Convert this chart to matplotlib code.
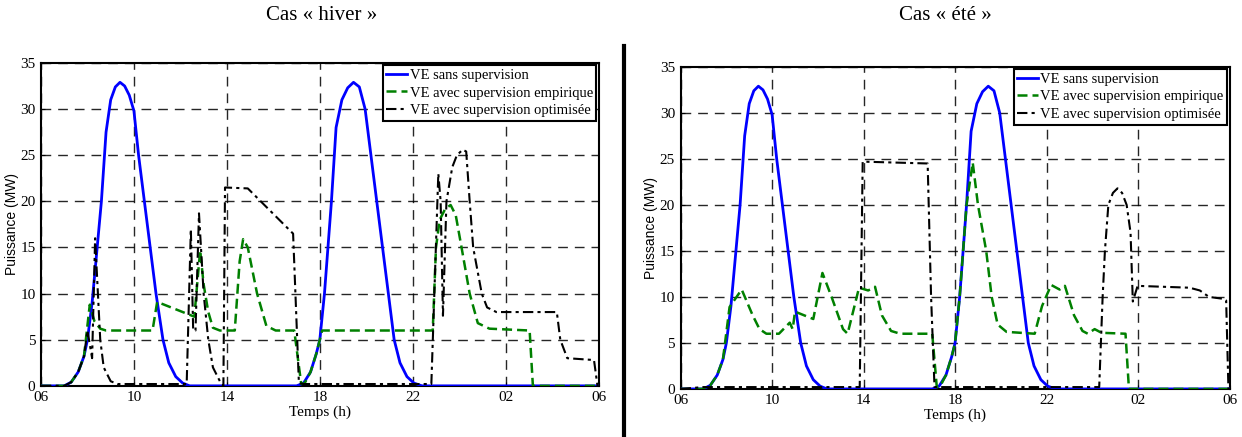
import matplotlib
matplotlib.use("Agg")
import matplotlib.pyplot as plt
from matplotlib.lines import Line2D

plt.rcParams["font.family"] = ["Liberation Serif", "DejaVu Serif"]

# Heures (6h -> 30h = 06h le lendemain) et puissances (MW)
t_sans = [6.0, 7.0, 7.3, 7.6, 7.85, 8.0, 8.2, 8.4, 8.6, 8.8, 9.0, 9.2, 9.4, 9.6, 9.8,
          10.0, 10.2, 10.45, 10.7, 10.95, 11.25, 11.5, 11.8, 12.1, 12.4, 17.0, 17.3,
          17.6, 17.85, 18.0, 18.2, 18.35, 18.5, 18.7, 18.95, 19.2, 19.45, 19.7, 19.95,
          20.2, 20.45, 20.7, 20.95, 21.2, 21.45, 21.75, 22.05, 22.4, 30.0]
p_sans = [0, 0, 0.4, 1.5, 3.2, 5, 9, 14.5, 20, 27.5, 31, 32.4, 32.9, 32.5, 31.5,
          29.8, 25, 20, 15, 10, 5, 2.5, 1.0, 0.3, 0, 0, 0.3,
          1.5, 3.5, 5, 10, 15, 20, 28, 31, 32.3, 32.9, 32.4, 30,
          25, 20, 15, 10, 5, 2.5, 1.0, 0.3, 0, 0]

# Cas hiver
t_emp_hiver = [6.0, 7.0, 7.3, 7.6, 7.85, 8.1, 8.3, 8.55, 8.8, 10.8, 11.0, 12.6, 12.85,
               13.0, 13.2, 13.4, 13.7, 14.34, 14.55, 14.7, 14.9, 15.3, 15.7, 16.1, 16.9,
               17.2, 17.35, 17.6, 17.85, 18.0, 18.1, 22.86, 23.0, 23.16, 23.4, 23.63,
               23.85, 24.1, 24.45, 24.8, 25.3, 27.03, 27.17, 30.0]
p_emp_hiver = [0, 0, 0.4, 1.5, 3.2, 8.8, 7.0, 6.2, 6.0, 6.0, 9.1, 7.5, 14.7,
               11, 8, 6.3, 6.0, 6.0, 13.5, 15.9, 15, 10, 6.5, 6.0, 6.0,
               0.2, 0.3, 1.5, 3.5, 5, 6, 6, 15, 18, 19.2, 19.6,
               18.5, 15, 10, 6.8, 6.2, 6.0, 0, 0]
t_opt_hiver = [6.0, 7.0, 7.3, 7.6, 7.85, 8.0, 8.2, 8.33, 8.55, 8.7, 9.0, 9.3, 12.27,
               12.45, 12.55, 12.65, 12.8, 13.0, 13.2, 13.4, 13.7, 13.85, 13.92, 14.9,
               16.85, 17.1, 17.3, 22.8, 23.1, 23.2, 23.3, 23.45, 23.7, 23.9, 24.15,
               24.3, 24.45, 24.6, 24.97, 25.2, 25.6, 28.2, 28.35, 28.65, 29.8, 29.95, 30.0]
p_opt_hiver = [0, 0, 0.4, 1.5, 3.2, 6, 3, 16, 5, 2, 0.5, 0.2, 0.2,
               17, 6, 6, 18.7, 10, 5, 2, 0.5, 0, 21.5, 21.4,
               16.5, 0.3, 0.2, 0.2, 23, 20, 7.6, 20, 23.7, 25, 25.6,
               25.4, 20, 15, 10, 8.5, 8, 8, 5, 3, 2.8, 0, 0]

# Cas ete
t_emp_ete = [6.0, 7.0, 7.3, 7.6, 7.85, 8.14, 8.67, 9.15, 9.45, 9.75, 10.3, 10.77, 10.9,
             11.0, 11.8, 12.2, 12.6, 13.1, 13.3, 13.8, 14.2, 14.5, 14.8, 15.2, 15.6,
             17.0, 17.2, 17.35, 17.6, 17.85, 18.0, 18.2, 18.35, 18.5, 18.77, 19.0,
             19.36, 19.6, 19.86, 20.25, 21.48, 21.8, 22.2, 22.57, 22.8, 23.2, 23.57,
             23.8, 24.1, 24.4, 25.45, 25.6, 30.0]
p_emp_ete = [0, 0, 0.4, 1.5, 3.2, 8.9, 10.8, 8, 6.5, 6, 6, 7.2, 6.5,
             8.4, 7.6, 12.6, 10, 6.5, 6, 11, 10.7, 11.1, 8, 6.3, 6,
             6, 0.2, 0.3, 1.5, 3.5, 5, 10, 15, 20, 24.6, 20,
             15, 10, 7, 6.2, 6, 9, 11.3, 10.8, 11.2, 8, 6.3,
             6.0, 6.5, 6.1, 6.0, 0, 0]
t_opt_ete = [6.0, 7.0, 13.83, 13.96, 16.8, 16.95, 17.1, 24.3, 24.45, 24.55, 24.7, 24.9,
             25.1, 25.3, 25.5, 25.67, 25.77, 25.98, 28.25, 28.7, 29.1, 29.7, 29.85,
             29.95, 30.0]
p_opt_ete = [0, 0.2, 0.2, 24.7, 24.5, 10, 0.2, 0.2, 10, 15, 20, 21.3,
             21.8, 21.3, 20, 17, 9.5, 11.2, 11.0, 10.7, 10, 9.8, 9.6,
             0, 0]

x_ticks = [6, 10, 14, 18, 22, 26, 30]
x_labels = ["06", "10", "14", "18", "22", "02", "06"]
y_ticks = [0, 5, 10, 15, 20, 25, 30, 35]
labels = ["VE sans supervision", "VE avec supervision empirique",
          "VE avec supervision optimisée"]


def draw_panel(ax, t_emp, p_emp, t_opt, p_opt):
    ax.plot(t_sans, p_sans, "-", color="#0000ff", linewidth=2.0, label=labels[0], zorder=3)
    ax.plot(t_emp, p_emp, "--", color="#008000", linewidth=1.8, dashes=(4, 2),
            label=labels[1], zorder=4)
    ax.plot(t_opt, p_opt, "-.", color="black", linewidth=1.5, dashes=(5, 2, 1.5, 2),
            label=labels[2], zorder=5)
    ax.set_xlim(6, 30)
    ax.set_ylim(0, 35)
    ax.set_xticks(x_ticks)
    ax.set_xticklabels(x_labels)
    ax.set_yticks(y_ticks)
    ax.tick_params(direction="in", length=3, labelsize=11)
    ax.tick_params(axis="x", pad=4)
    ax.tick_params(axis="y", pad=4)
    ax.grid(True, color="black", linestyle=(0, (7, 5)), linewidth=1.0, alpha=0.85)
    for s in ax.spines.values():
        s.set_linewidth(1.5)
    ax.set_xlabel("Temps (h)", fontsize=11, labelpad=1)
    ax.set_ylabel("Puissance (MW)", fontsize=10, family=["Liberation Sans"], labelpad=1)
    leg = ax.legend(loc="upper right", fontsize=10.5, handlelength=1.4, handletextpad=0.2,
                    borderpad=0.25, labelspacing=0.3, borderaxespad=0.15, fancybox=False,
                    framealpha=1)
    leg.get_frame().set_edgecolor("black")
    leg.get_frame().set_linewidth(1.5)


fig = plt.figure(figsize=(12.42, 4.37), dpi=100)

ax1 = fig.add_axes([0.033, 0.117, 0.449, 0.739])
draw_panel(ax1, t_emp_hiver, p_emp_hiver, t_opt_hiver, p_opt_hiver)

ax2 = fig.add_axes([0.548, 0.110, 0.442, 0.737])
draw_panel(ax2, t_emp_ete, p_emp_ete, t_opt_ete, p_opt_ete)

fig.text(0.259, 0.965, "Cas « hiver »", ha="center", va="center", fontsize=15)
fig.text(0.761, 0.965, "Cas « été »", ha="center", va="center", fontsize=15)

# Trait de separation entre les deux cas
fig.add_artist(Line2D([0.5024, 0.5024], [0.0, 1 - 46 / 437], color="black", linewidth=3))

fig.savefig("out.png", dpi=100)
